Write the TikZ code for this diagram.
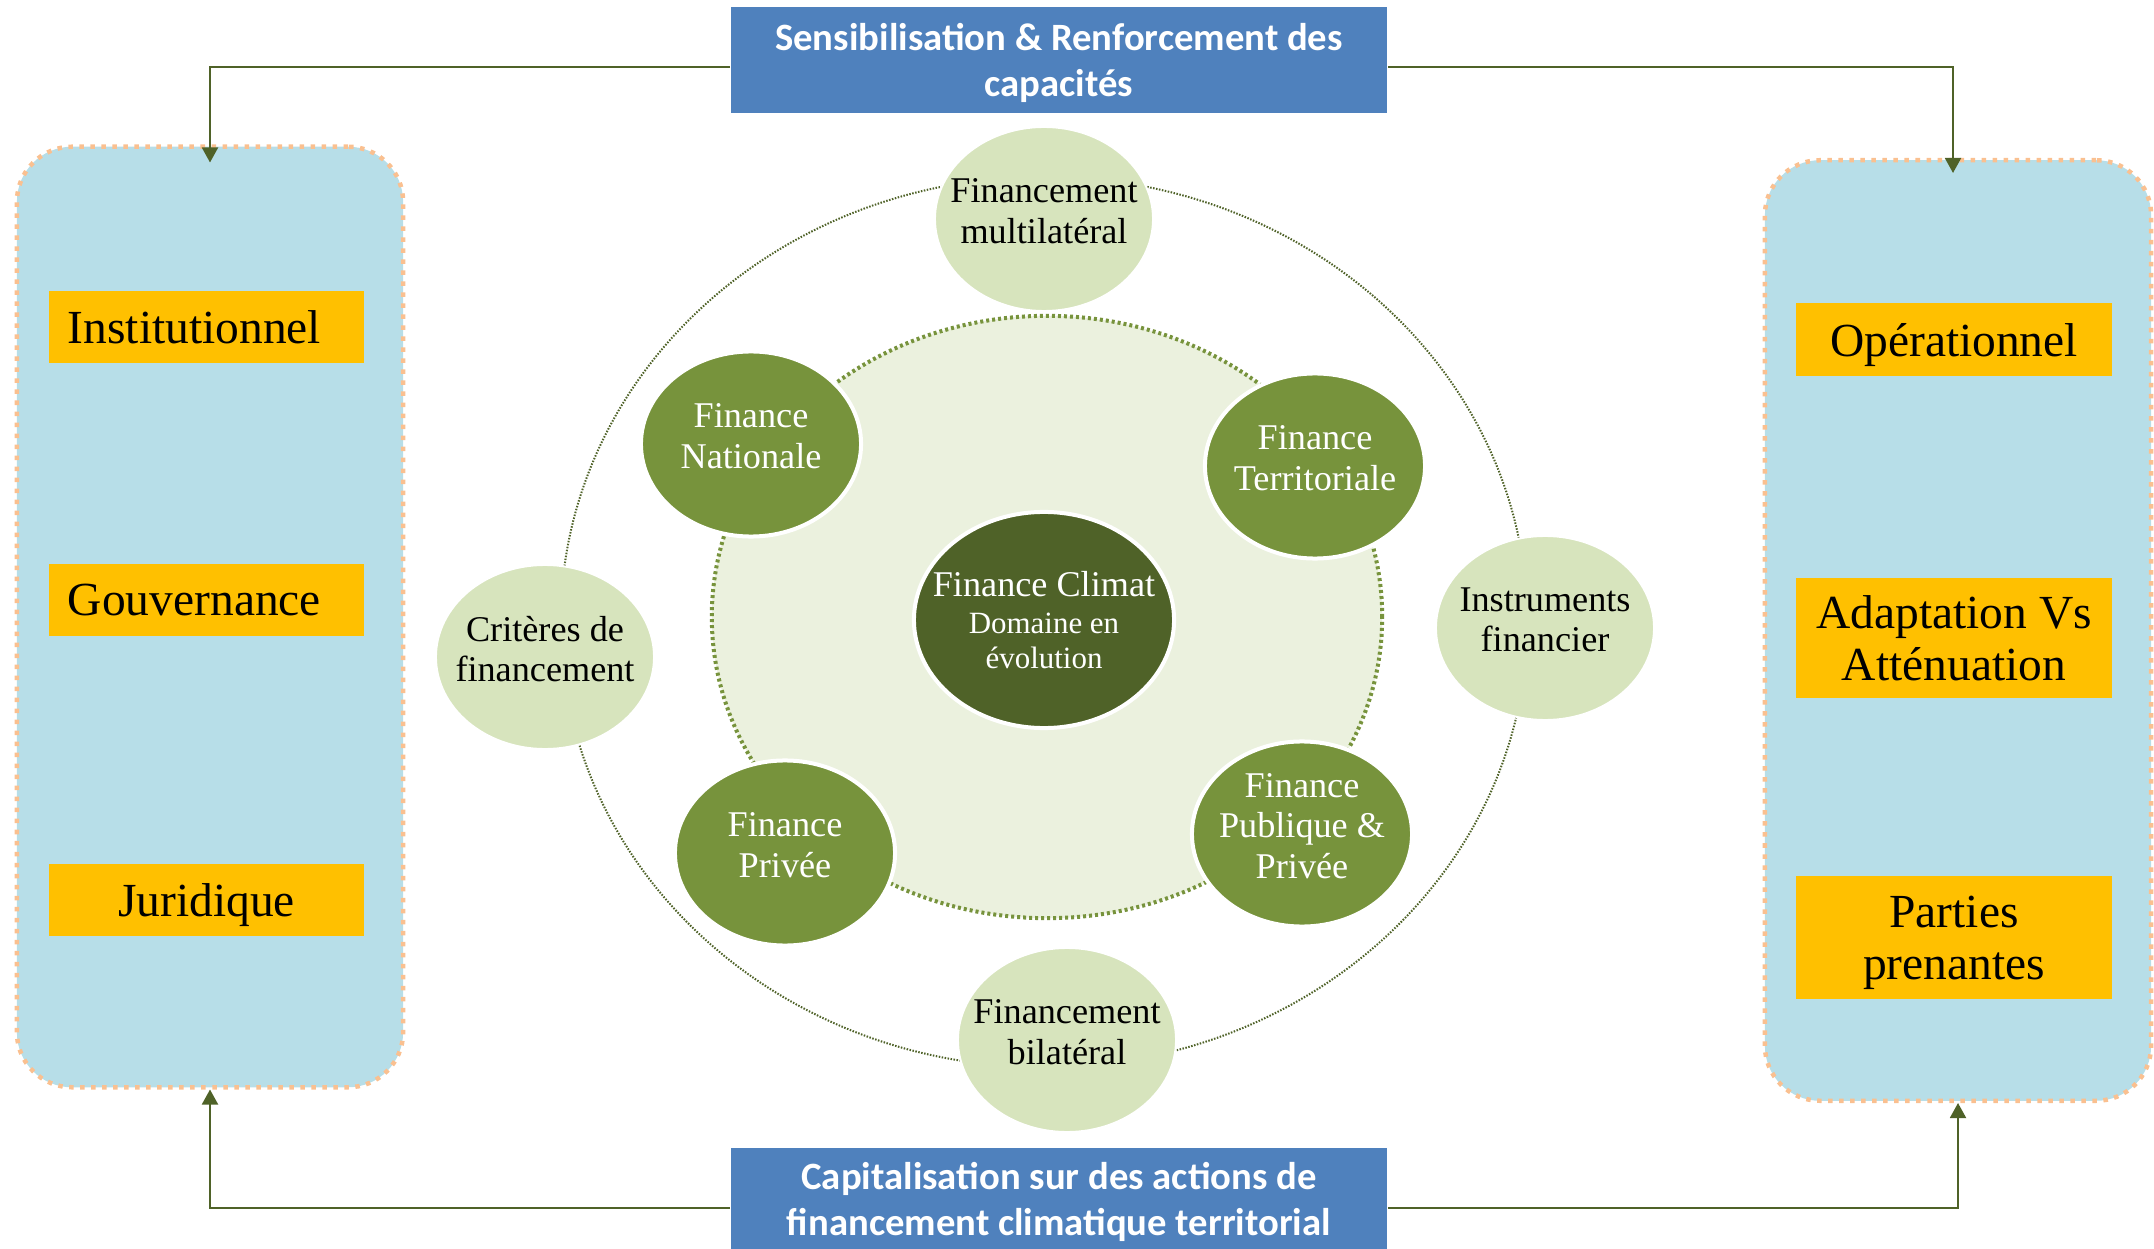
\documentclass[tikz,border=0pt]{standalone}
\usepackage{fontspec}
\setmainfont{Liberation Serif}
\newfontfamily\calibfont{Carlito}
\usepackage{tikz}
\usetikzlibrary{calc, shapes.geometric, arrows.meta}

\definecolor{capblue}{HTML}{4F81BD}
\definecolor{axeorange}{HTML}{FFC000}
\definecolor{panelblue}{HTML}{B7DEE8}
\definecolor{panelpeach}{HTML}{FAC090}
\definecolor{darkolive}{HTML}{4F6228}
\definecolor{midolive}{HTML}{77933C}
\definecolor{paleolive}{HTML}{D7E4BD}
\definecolor{ringfill}{HTML}{EBF1DE}

\tikzset{
	capbox/.style = {fill = capblue, text = white, minimum width = 6.56cm, inner sep = 0, text depth = 0pt, align = center, font = \calibfont\bfseries\fontsize{11}{13.3}\selectfont},
	axebox/.style = {fill = axeorange, minimum width = 3.15cm, inner sep = 0, text depth = 0pt, align = center, font = \fontsize{13.5}{14.8}\selectfont},
	panel/.style = {fill = panelblue, draw = panelpeach, line width = 0.045cm, dash pattern = on 0.045cm off 0.065cm, rounded corners = 0.55cm, minimum width = 3.86cm, minimum height = 9.4cm},
	link/.style = {draw = darkolive, line width = 0.02cm, -{Triangle[width = 0.16cm, length = 0.15cm]}},
	paleell/.style = {ellipse, fill = paleolive, draw = white, line width = 0.02cm, minimum width = 2.18cm, minimum height = 1.84cm, inner xsep = -0.5cm, inner ysep = -0.2cm, text depth = 0.16cm, align = center, font = \fontsize{10.3}{11.4}\selectfont},
	midell/.style = {paleell, fill = midolive, text = white, line width = 0.04cm, minimum width = 2.2cm, minimum height = 1.85cm}
}

\begin{document}
\begin{tikzpicture}[x = 0.01cm, y = -0.01cm]
	\useasboundingbox (0,0) rectangle (2154,1249);

	\begin{scope}
		\node [panel] (lp) at (210,617) {};
		\node [panel] (rp) at (1958,630.5) {};

		\node [axebox, minimum height = 0.72cm, text width = 2.77cm, align = left] (inst) at (206.5,327) {Institutionnel};
		\node [axebox, minimum height = 0.72cm, text width = 2.77cm, align = left] (gouv) at (206.5,600) {Gouvernance};
		\node [axebox, minimum height = 0.72cm] (juri) at (206.5,900) {Juridique};

		\node [axebox, minimum height = 0.72cm] (oper) at (1954,339.5) {Opérationnel};
		\node [axebox, minimum height = 1.2cm] (adap) at (1954,638) {Adaptation Vs\\Atténuation};
		\node [axebox, minimum height = 1.22cm] (part) at (1954,937.5) {Parties\\prenantes};
	\end{scope}

	\node [capbox, minimum height = 1.06cm] (sens) at (1059,60) {Sensibilisation \& Renforcement des\\capacités};
	\node [capbox, minimum height = 1.02cm] (capi) at (1059,1199) {Capitalisation sur des actions de\\financement climatique territorial};

	\draw [link] ($(sens.west)+(0,7)$) -| ($(lp.north)+(0,18)$);
	\draw [link] ($(sens.east)+(0,7)$) -| ($(rp.north)+(-5,15)$);
	\draw [link] ($(capi.west)+(0,9)$) -| (lp.south);
	\draw [link] ($(capi.east)+(0,9)$) -| (rp.south);

	\begin{scope}
		\draw [darkolive, line width = 0.02cm, dash pattern = on 0.015cm off 0.015cm] (1044,622) ellipse [x radius = 4.83cm, y radius = 4.45cm];
		\filldraw [fill = ringfill, draw = midolive, line width = 0.04cm, dash pattern = on 0.03cm off 0.03cm] (1047,617) ellipse [x radius = 3.35cm, y radius = 3.01cm];

		\foreach \nm/\x/\y/\txt in {mult/1044/219/{Financement\\multilatéral}, instr/1545/628/{Instruments\\financier}, crit/545/657/{Critères de\\financement}, bila/1067/1040/{Financement\\bilatéral}}
		{
			\node [paleell] (\nm) at (\x,\y) {\txt};
		}

		\foreach \nm/\x/\y/\txt in {nat/751/444/{Finance\\Nationale}, terr/1315/466/{Finance\\Territoriale}, priv/785/853/{Finance\\Privée}, pubpriv/1302/834/{Finance\\Publique \&\\Privée}}
		{
			\node [midell] (\nm) at (\x,\y) {\txt};
		}

		\node [midell, fill = darkolive, text depth = -0.05cm, minimum width = 2.6cm, minimum height = 2.16cm] (clim) at (1044,620) {Finance Climat\\[-0.7pt]{\fontsize{8.8}{9.6}\selectfont Domaine en}\\[-1.4pt]{\fontsize{8.8}{9.6}\selectfont évolution}};
	\end{scope}
\end{tikzpicture}
\end{document}
